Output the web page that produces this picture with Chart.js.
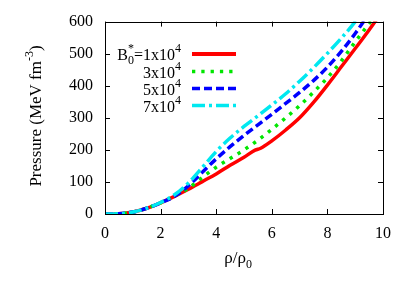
<!DOCTYPE html>
<html>
<head>
<meta charset="utf-8">
<script src="https://cdn.jsdelivr.net/npm/chart.js@4"></script>
<style>
  html, body { margin: 0; padding: 0; background: #fff; }
  #wrap { width: 409px; height: 286px; }
</style>
</head>
<body>
<div id="wrap"><canvas id="myChart"></canvas></div>
<script>
// B0* values (x10^4) and curves
var fieldValues = ['1', '3', '5', '7'];
var rhoRed = [0, 0.5, 1, 1.5, 2, 2.5, 3, 3.5, 4, 4.5, 5, 5.4, 5.6, 6, 6.5, 7, 7.5, 8, 8.5, 9, 9.5, 10];
var pRed   = [0, 1, 6, 18, 35, 55, 77, 101, 125, 152, 177, 199, 205, 228, 262, 300, 348, 402, 459, 516, 574, 635];
var rhoGreen = [0, 0.5, 1, 1.5, 2, 2.5, 3, 3.5, 4, 4.5, 5, 5.5, 6, 6.5, 7, 7.5, 8, 8.5, 9, 9.5, 10];
var pGreen   = [0, 1, 6, 18, 35, 56, 80, 114, 146, 173, 200, 230, 264, 300, 338, 380, 425, 477, 537, 594, 655];
var rhoBlue = [0, 0.5, 1, 1.5, 2, 2.5, 3, 3.5, 4, 4.5, 5, 5.5, 6, 6.5, 7, 7.5, 8, 8.5, 9, 9.5];
var pBlue   = [0, 1, 6, 18, 35, 55, 88, 130, 172, 210, 245, 278, 311, 345, 379, 416, 458, 507, 563, 625];
var rhoCyan = [0, 0.5, 1, 1.5, 2, 2.5, 3, 3.5, 4, 4.5, 5, 5.5, 6, 6.5, 7, 7.5, 8, 8.5, 9, 9.5];
var pCyan   = [0, 1, 6, 18, 36, 60, 97, 145, 195, 237, 273, 306, 340, 375, 414, 456, 501, 548, 600, 660];
var xTicks = [0, 2, 4, 6, 8, 10];
var yTicks = [0, 100, 200, 300, 400, 500, 600];

var serif = '"Liberation Serif", "DejaVu Serif", serif';
var colors = ['#ff0000', '#00e600', '#0000ff', '#00e8f0'];
var dashes = [[], [3.3, 6], [8, 4], [13, 4, 3, 4]];

function pts(xs, ys) {
  var out = [];
  for (var i = 0; i < xs.length; i++) out.push({x: xs[i], y: ys[i]});
  return out;
}
var series = [pts(rhoRed, pRed), pts(rhoGreen, pGreen), pts(rhoBlue, pBlue), pts(rhoCyan, pCyan)];

// draws pieces of text right-aligned at xr, some raised / lowered
function drawRich(ctx, parts, xr, y) {
  var total = 0;
  parts.forEach(function (p) {
    ctx.font = p.size + 'px ' + serif;
    p.w = ctx.measureText(p.t).width;
    if (!p.stack) total += p.w;
  });
  var x = xr - total;
  var lastX = x;
  parts.forEach(function (p) {
    ctx.font = p.size + 'px ' + serif;
    if (p.stack) {
      ctx.fillText(p.t, lastX, y + (p.dy || 0));
    } else {
      ctx.fillText(p.t, x, y + (p.dy || 0));
      lastX = x;
      x += p.w;
    }
  });
}

var decor = {
  id: 'decor',
  afterDraw: function (chart) {
    var ctx = chart.ctx, a = chart.chartArea;
    var xs = chart.scales.x, ys = chart.scales.y;
    ctx.save();
    // frame and inward ticks on all sides
    ctx.strokeStyle = '#000';
    ctx.lineWidth = 1;
    ctx.strokeRect(Math.round(a.left) + 0.5, Math.round(a.top) + 0.5,
      Math.round(a.right - a.left), Math.round(a.bottom - a.top));
    ctx.beginPath();
    xTicks.forEach(function (v) {
      var px = Math.round(xs.getPixelForValue(v)) + 0.5;
      ctx.moveTo(px, a.bottom); ctx.lineTo(px, a.bottom - 5);
      ctx.moveTo(px, a.top); ctx.lineTo(px, a.top + 5);
    });
    yTicks.forEach(function (v) {
      var py = Math.round(ys.getPixelForValue(v)) + 0.5;
      ctx.moveTo(a.left, py); ctx.lineTo(a.left + 5, py);
      ctx.moveTo(a.right, py); ctx.lineTo(a.right - 5, py);
    });
    ctx.stroke();

    // legend
    ctx.fillStyle = '#000';
    ctx.textBaseline = 'alphabetic';
    var rows = [54, 71.5, 88.5, 105.5];
    fieldValues.forEach(function (v, i) {
      var parts = [];
      if (i === 0) {
        parts.push({t: 'B', size: 16});
        parts.push({t: '0', size: 12, dy: 4});
        parts.push({t: '*', size: 12, dy: -8, stack: true});
        parts.push({t: '=', size: 16});
      }
      parts.push({t: v + 'x10', size: 16});
      parts.push({t: '4', size: 12, dy: -8});
      drawRich(ctx, parts, 181, rows[i] + 6);
      ctx.strokeStyle = colors[i];
      ctx.lineWidth = i === 0 ? 4 : 3.5;
      ctx.setLineDash(dashes[i]);
      ctx.beginPath();
      ctx.moveTo(192, rows[i]);
      ctx.lineTo(236, rows[i]);
      ctx.stroke();
      ctx.setLineDash([]);
    });

    // x title
    var xp = [{t: '\u03c1/\u03c1', size: 17}, {t: '0', size: 12, dy: 5}];
    drawRich(ctx, xp, 252, 263);

    // y title, rotated
    ctx.translate(41, 116);
    ctx.rotate(-Math.PI / 2);
    var yp = [{t: 'Pressure (MeV fm', size: 17}, {t: '-3', size: 12, dy: -8}, {t: ')', size: 17}];
    var w = 0;
    yp.forEach(function (p) { ctx.font = p.size + 'px ' + serif; w += ctx.measureText(p.t).width; });
    drawRich(ctx, yp, w / 2, 0);
    ctx.restore();
  }
};

var ctx = document.getElementById('myChart');
var myChart = new Chart(ctx, {
  type: 'line',
  data: {
    datasets: series.map(function (d, i) {
      return {
        label: 'B0*=' + fieldValues[i] + 'x10^4',
        data: d,
        borderColor: colors[i],
        borderWidth: 3.5,
        borderDash: dashes[i],
        pointRadius: 0,
        fill: false,
        cubicInterpolationMode: 'monotone',
        order: 3 - i
      };
    })
  },
  options: {
    responsive: true,
    maintainAspectRatio: false,
    animation: false,
    layout: {
      padding: {left: 0, top: 21, right: 26, bottom: 0}
    },
    plugins: {
      legend: { display: false },
      tooltip: { enabled: false }
    },
    scales: {
      x: {
        type: 'linear',
        min: 0, max: 10,
        afterFit: function (s) { s.height = 72; },
        afterBuildTicks: function (s) { s.ticks = xTicks.map(function (v) { return {value: v}; }); },
        grid: { display: false, drawTicks: false },
        border: { display: false },
        ticks: { color: '#000', padding: 10, font: { family: serif, size: 16 } }
      },
      y: {
        min: 0, max: 600,
        afterFit: function (s) { s.width = 105; },
        afterBuildTicks: function (s) { s.ticks = yTicks.map(function (v) { return {value: v}; }); },
        grid: { display: false, drawTicks: false },
        border: { display: false },
        ticks: { color: '#000', padding: 12, font: { family: serif, size: 16 } }
      }
    }
  },
  plugins: [decor]
});
</script>
</body>
</html>
